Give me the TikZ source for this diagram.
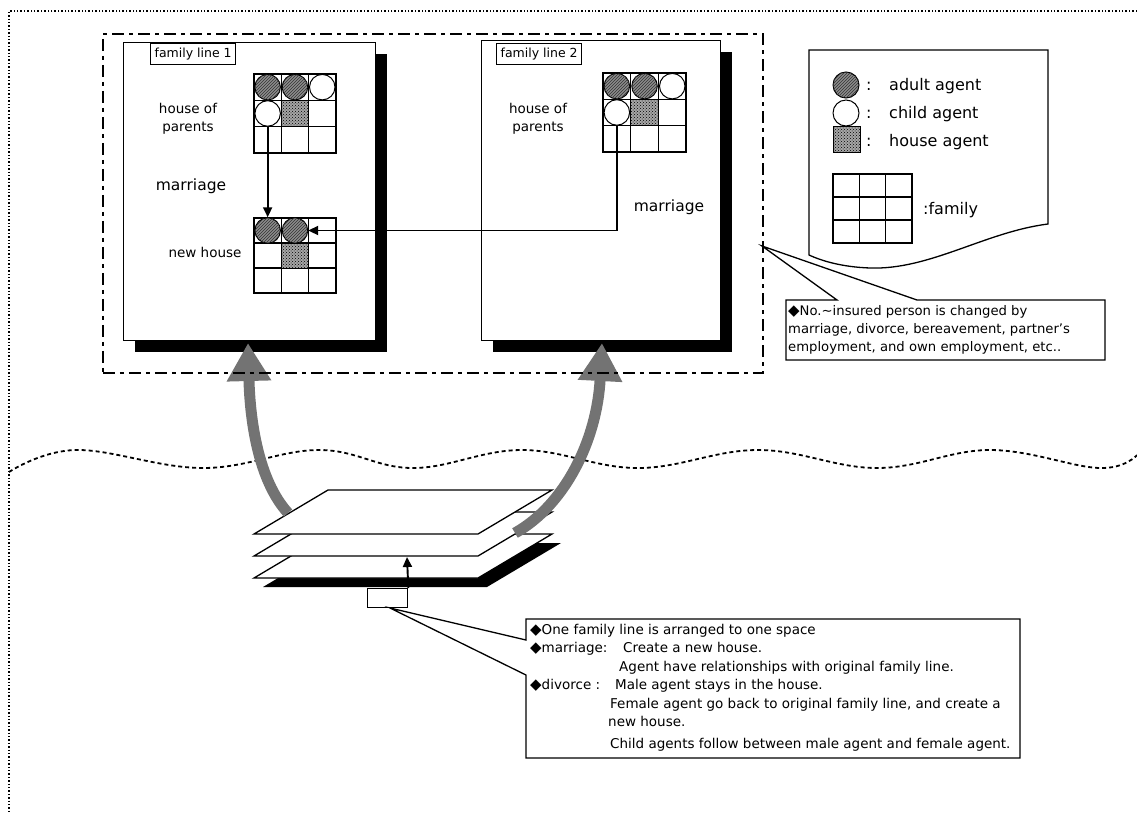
\documentclass[tikz,border=0pt]{standalone}
\usepackage{fontspec}
\setmainfont{DejaVu Sans}
\usetikzlibrary{arrows.meta,patterns}
\newcommand{\fsz}[1]{\fontsize{#1}{#1}\selectfont}
\newcommand{\dmd}{{\fontsize{15}{15}\selectfont ◆}}
\newcommand{\famgrid}[5]{%
  \fill[white] (#2,#3) rectangle ({#2+3*#4},{#3+3*#5});
  \foreach \ii in {0,1,2,3}{%
    \draw[gridline] ({#2+\ii*#4},#3) -- ({#2+\ii*#4},{#3+3*#5});
    \draw[gridline] (#2,{#3+\ii*#5}) -- ({#2+3*#4},{#3+\ii*#5});
  }%
  \foreach \rr in {1,2,3}{\foreach \cc in {1,2,3}{%
    \coordinate (#1-\rr-\cc) at ({#2+(\cc-0.5)*#4},{#3+(\rr-0.5)*#5});
  }}%
}
\tikzset{
  gridline/.style={line width=1.3pt, line cap=rect},
  panel/.style={draw, line width=1.3pt, fill=white, inner sep=0, anchor=north west},
  adult/.style={circle, draw, line width=1pt, minimum size=25.5pt, inner sep=0, fill=black!45, postaction={pattern=north east lines, pattern color=black!80}},
  child/.style={circle, draw, line width=1pt, minimum size=25.5pt, inner sep=0, fill=white},
  houseag/.style={rectangle, draw, line width=1pt, inner sep=0, fill=black!35, postaction={pattern=crosshatch dots, pattern color=black}},
  blkarrow/.style={line width=1.9pt, -{Triangle[length=10pt,width=9pt]}},
  bigarrow/.style={line width=11pt, draw=black!55, -{Triangle[length=38pt,width=42pt]}},
  tagbox/.style={draw, line width=1.2pt, fill=white, inner xsep=4pt, inner ysep=4.5pt, font=\fsz{12.5}, anchor=north west},
  lbl/.style={inner sep=0, anchor=base},
  tw/.style={inner sep=0, anchor=base west},
  plane/.style={draw, line width=1.3pt, fill=white, line join=miter},
}
\begin{document}
\begin{tikzpicture}[x=1pt,y=-1pt]
\useasboundingbox (0,0) rectangle (1137,812);
% outer dotted frame
\coordinate (f0) at (9,11);
\coordinate (f1) at (1137,11);
\coordinate (f2) at (9,812);
\draw[dotted, line width=1.4pt] (f1) -- (f0) -- (f2);

% panels
\fill (135,54) rectangle (387,352);
\node[panel, minimum width=252pt, minimum height=298pt] (P1) at (123,42) {};
\fill (493,52) rectangle (732,352);
\node[panel, minimum width=239pt, minimum height=300pt] (P2) at (481,40) {};
\node[tagbox] (T1) at (150,43) {family line 1};
\node[tagbox] (T2) at (496,43) {family line 2};

% panel 1 texts
\node[lbl, font=\fsz{13.5}] (h1a) at (188,113) {house of};
\node[lbl, font=\fsz{13.5}] (h1b) at (188,131) {parents};
\node[lbl, font=\fsz{15.5}] (m1) at (191,190) {marriage};
\node[lbl, font=\fsz{13.5}] (n1) at (205,257) {new house};
% panel 2 texts
\node[lbl, font=\fsz{13.5}] (h2a) at (538,113) {house of};
\node[lbl, font=\fsz{13.5}] (h2b) at (538,131) {parents};
\node[lbl, font=\fsz{15.5}] (m2) at (669,211) {marriage};

% grids
\famgrid{g1}{254}{74}{27.3}{26.3}
\famgrid{g2}{254}{218}{27.3}{25}
\famgrid{g3}{603}{73}{27.7}{26.3}

% agents panel 1, house of parents
\node[adult] (pa1) at (g1-1-1) {};
\node[adult] (pa2) at (g1-1-2) {};
\node[child] (pc1) at (g1-1-3) {};
\node[child] (pc2) at (g1-2-1) {};
\node[houseag, minimum width=27.3pt, minimum height=26.3pt] (ph1) at (g1-2-2) {};
% new house
\node[adult] (na1) at (g2-1-1) {};
\node[adult] (na2) at (g2-1-2) {};
\node[houseag, minimum width=27.3pt, minimum height=25pt] (nh1) at (g2-2-2) {};
% panel 2
\node[adult] (qa1) at (g3-1-1) {};
\node[adult] (qa2) at (g3-1-2) {};
\node[child] (qc1) at (g3-1-3) {};
\node[child] (qc2) at (g3-2-1) {};
\node[houseag, minimum width=27.7pt, minimum height=26.3pt] (qh1) at (g3-2-2) {};

% black arrows in panels
\draw[blkarrow] (pc2.south) -- (na1.north);
\draw[blkarrow] (qc2.south) |- (na2.east);

% legend
\draw[line width=1.3pt, fill=white] (809,50) -- (1048,50) -- (1048,224)
  .. controls (985,232) and (930,270) .. (870,268)
  .. controls (842,267) and (822,261) .. (809,255) -- cycle;
\node[adult, minimum size=26pt] (lA) at (846,85) {};
\node[child, minimum size=26pt] (lC) at (846,113) {};
\node[houseag, minimum width=27pt, minimum height=26pt] (lH) at (846.5,139) {};
\node[tw, font=\fsz{16}] (lA1) at (866,90) {:};
\node[tw, font=\fsz{16}] (lC1) at (866,118) {:};
\node[tw, font=\fsz{16}] (lH1) at (866,146) {:};
\node[tw, font=\fsz{16}] (lA2) at (889,90) {adult agent};
\node[tw, font=\fsz{16}] (lC2) at (889,118) {child agent};
\node[tw, font=\fsz{16}] (lH2) at (889,146) {house agent};
\famgrid{g4}{833}{174}{26.3}{23}
\node[tw, font=\fsz{16}] (lF) at (923,214) {:family};

% wavy dashed line
\draw[line width=1.8pt, dash pattern=on 4pt off 3pt]
  plot[smooth, tension=0.65] coordinates {(9,472) (76,450) (203,468) (319,450) (413,468) (522,450) (638,468) (758,450) (877,468) (990,450) (1099,468) (1137,455)};

% stacked planes
\fill (263,587) -- (337,543) -- (561,543) -- (487,587) -- cycle;
\draw[plane] (328,534) -- (552,534) -- (478,578) -- (254,578) -- cycle;
\draw[plane] (328,512) -- (552,512) -- (478,556) -- (254,556) -- cycle;
\draw[plane] (328,490) -- (552,490) -- (478,534) -- (254,534) -- cycle;
\node[draw, line width=1.3pt, fill=white, minimum width=40pt, minimum height=19pt, inner sep=0, anchor=north west] (SB) at (367,588) {};
\coordinate (SBtip) at (407,557);
\draw[blkarrow] (SB.north east) -- (SBtip);

% big gray arrows
\coordinate (LAt) at (288,513);
\coordinate (LAh) at (248,343);
\coordinate (RAt) at (515,533);
\coordinate (RAh) at (602,343);
\draw[bigarrow] (LAt) .. controls (258,480) and (250,420) .. (LAh);
\draw[bigarrow] (RAt) .. controls (565,505) and (597,440) .. (RAh);

% dash-dot frame round the panels
\node[draw, line width=1.8pt, dash pattern=on 12pt off 5pt on 4pt off 5pt, minimum width=660pt, minimum height=339pt, inner sep=0, anchor=north west] (S) at (102,33) {};

% callout 1
\coordinate (c1tip) at (762,246);
\draw[line width=1.3pt, fill=white] (837,300) -- (c1tip) -- (917,300) -- (1105,300) -- (1105,360) -- (786,360) -- (786,300) -- cycle;
\node[tw, font=\fsz{13.2}] (c1a) at (788,315) {\dmd No.∼insured person is changed by};
\node[tw, font=\fsz{13.2}] (c1b) at (788,333) {marriage, divorce, bereavement, partner's};
\node[tw, font=\fsz{13.2}] (c1c) at (788,351) {employment, and own employment, etc..};

% callout 2
\coordinate (c2tip) at (390,608);
\draw[line width=1.3pt, fill=white] (c2tip) -- (526,640) -- (526,619) -- (1020,619) -- (1020,758) -- (526,758) -- (526,675) -- cycle;
\node[tw, font=\fsz{13.5}] (c2a) at (530,634) {\dmd One family line is arranged to one space};
\node[tw, font=\fsz{13.5}] (c2b) at (530,652) {\dmd marriage:};
\node[tw, font=\fsz{13.5}] (c2b2) at (623,652) {Create a new house.};
\node[tw, font=\fsz{13.5}] (c2c) at (619,671) {Agent have relationships with original family line.};
\node[tw, font=\fsz{13.5}] (c2d) at (530,689) {\dmd divorce :};
\node[tw, font=\fsz{13.5}] (c2d2) at (615,689) {Male agent stays in the house.};
\node[tw, font=\fsz{13.5}] (c2e) at (610,708) {Female agent go back to original family line, and create a};
\node[tw, font=\fsz{13.5}] (c2f) at (608,726) {new house.};
\node[tw, font=\fsz{13.5}] (c2g) at (610,748) {Child agents follow between male agent and female agent.};
\end{tikzpicture}
\end{document}
